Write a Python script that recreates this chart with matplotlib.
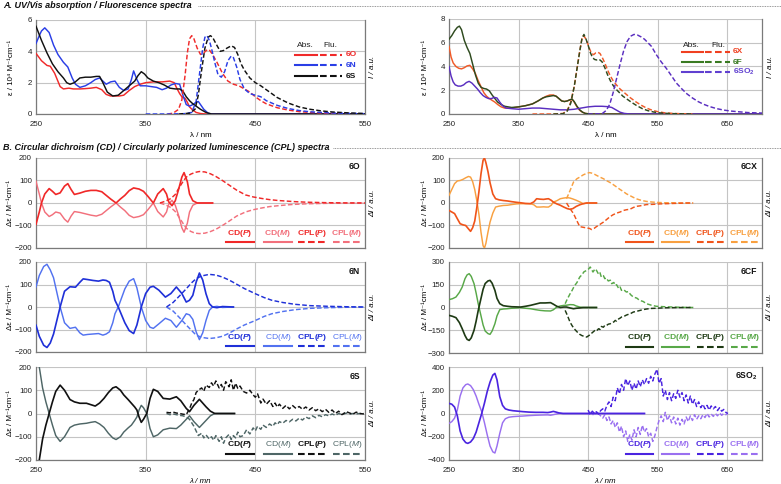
import matplotlib
matplotlib.use("Agg")
import matplotlib.pyplot as plt
from matplotlib.lines import Line2D

plt.rcParams['font.family'] = ['Liberation Sans', 'DejaVu Sans']
plt.rcParams['mathtext.fontset'] = 'custom'
plt.rcParams['mathtext.rm'] = 'Liberation Sans'
plt.rcParams['mathtext.it'] = 'Liberation Sans:italic'
plt.rcParams['mathtext.bf'] = 'Liberation Sans:bold'
plt.rcParams['mathtext.bfit'] = 'Liberation Sans:italic:bold'

# ---------------- DATA ----------------
# A. absorption (10^4 M-1 cm-1) / fluorescence (a.u.), left panel
ABS_6O_X = [250,255,260,263,267,272,275,280,284,290,295,300,305,310,314,318,322,326,330,335,340,345,350,357,365,372,376,378,381,383,386,388,390,393,396,400,405,550]
ABS_6O_Y = [3.87,3.4,3.1,3.05,2.6,1.75,1.6,1.65,1.6,1.6,1.62,1.65,1.7,1.55,1.25,1.15,1.15,1.15,1.2,1.5,1.75,1.9,2.0,2.05,2.05,2.1,2.0,1.7,1.3,1.1,1.0,0.75,0.45,0.25,0.1,0.03,0,0]
ABS_6N_X = [250,253,255,258,262,266,270,275,279,283,286,290,295,300,304,308,311,314,318,322,326,330,334,337,339,342,345,350,355,360,365,369,373,377,381,384,387,390,393,396,398,401,403,407,410,550]
ABS_6N_Y = [4.5,5.0,5.3,5.5,5.2,4.4,3.8,3.3,3.0,2.3,1.9,1.7,1.8,2.0,2.2,2.3,2.1,1.9,2.05,2.1,1.7,1.5,1.6,2.2,2.75,2.2,1.8,1.8,1.75,1.7,1.55,1.65,1.85,1.95,1.9,1.2,0.6,0.5,0.6,0.75,0.8,0.5,0.3,0.05,0,0]
ABS_6S_X = [250,255,260,265,270,275,278,281,285,290,295,300,305,308,311,315,320,325,330,335,340,343,346,349,352,357,362,367,372,377,381,384,387,390,393,396,400,405,410,550]
ABS_6S_Y = [5.6,4.7,3.9,3.2,2.7,2.3,2.0,1.9,2.0,2.3,2.35,2.35,2.4,2.4,2.0,1.4,1.15,1.2,1.5,1.8,2.1,2.45,2.7,2.55,2.3,2.1,2.0,1.85,1.65,1.6,1.6,1.45,1.1,0.85,0.65,0.5,0.3,0.1,0,0]
FLU_6O_X = [370,375,380,383,386,388,390,392,394,397,400,403,406,408,411,415,420,425,430,435,440,445,450,455,460,470,480,490,500,515,530,550]
FLU_6O_Y = [0,0.05,0.3,0.9,2.5,3.9,4.8,5.0,4.8,4.2,3.8,3.9,4.1,4.1,3.8,3.3,2.6,2.1,1.9,1.8,1.6,1.4,1.1,0.85,0.65,0.4,0.25,0.15,0.1,0.05,0.02,0]
FLU_6N_X = [350,370,385,392,396,399,402,404,406,408,410,413,416,419,422,425,428,430,433,436,440,445,450,455,460,470,480,490,500,520,550]
FLU_6N_Y = [0,0,0.02,0.1,0.8,2.5,4.2,4.9,5.0,4.7,4.2,3.3,2.5,2.35,2.7,3.4,3.7,3.6,3.0,2.2,1.6,1.3,1.2,1.1,0.85,0.55,0.35,0.22,0.14,0.06,0.02]
FLU_6S_X = [380,390,395,398,401,404,407,409,411,414,418,421,424,428,431,434,437,440,445,450,455,460,470,480,490,500,510,520,535,550]
FLU_6S_Y = [0,0.05,0.3,1.2,2.8,4.2,4.9,5.0,4.9,4.5,4.0,4.05,4.2,4.35,4.25,3.8,3.2,2.8,2.3,2.0,1.8,1.55,1.05,0.7,0.45,0.3,0.2,0.13,0.07,0.03]

# right panel
ABS_6X_X = [250,253,256,260,264,268,272,276,280,284,288,292,296,300,304,308,312,316,320,325,330,340,350,360,370,378,385,390,395,400,404,408,412,416,420,424,427,430,434,438,442,446,450,460,700]
ABS_6X_Y = [5.7,4.8,4.3,4.0,3.85,3.8,3.9,4.05,4.1,3.8,3.4,2.8,2.3,1.8,1.5,1.3,1.15,1.0,0.8,0.6,0.5,0.5,0.6,0.7,0.85,1.1,1.35,1.5,1.6,1.6,1.5,1.3,1.1,1.05,1.1,1.2,1.25,1.0,0.6,0.3,0.15,0.05,0.02,0,0]
ABS_6F_X = [250,254,258,262,265,268,272,276,280,284,288,292,296,300,304,308,312,316,320,325,330,340,350,360,370,378,385,390,395,400,404,408,412,416,420,424,427,430,434,438,442,446,450,455,700]
ABS_6F_Y = [6.3,6.6,7.0,7.3,7.4,7.1,6.2,5.6,5.1,4.2,3.3,2.6,2.25,2.15,2.1,1.95,1.6,1.3,1.0,0.8,0.65,0.55,0.6,0.7,0.85,1.1,1.35,1.45,1.5,1.55,1.5,1.3,1.1,1.05,1.1,1.2,1.25,1.05,0.65,0.35,0.15,0.05,0.02,0,0]
ABS_6SO2_X = [250,253,256,259,263,267,271,275,279,283,287,291,295,299,303,307,311,315,319,323,327,332,340,350,360,370,380,390,400,410,420,430,440,450,460,470,478,484,490,496,502,510,700]
ABS_6SO2_Y = [4.0,3.2,2.7,2.45,2.35,2.35,2.45,2.65,2.75,2.6,2.35,2.1,1.8,1.55,1.4,1.3,1.3,1.4,1.35,1.0,0.7,0.5,0.45,0.4,0.45,0.5,0.5,0.45,0.4,0.35,0.35,0.4,0.5,0.6,0.65,0.65,0.62,0.55,0.35,0.15,0.05,0,0]
FLU_6X_X = [370,400,414,420,425,430,434,438,441,443,446,449,452,455,458,461,464,467,470,474,478,482,486,490,496,502,510,518,526,534,542,550,560,572,585,600]
FLU_6X_Y = [0,0,0.05,0.3,1.0,2.3,3.8,5.3,6.3,6.6,6.4,6.0,5.5,5.1,5.0,5.15,5.2,5.1,4.8,4.3,3.7,3.2,2.8,2.5,2.1,1.8,1.4,1.05,0.75,0.5,0.32,0.2,0.1,0.05,0.02,0]
FLU_6F_X = [400,414,420,425,430,434,438,441,444,447,450,453,456,459,462,466,470,474,478,482,486,490,495,500,506,512,520,528,536,544,552,560,572,585,600]
FLU_6F_Y = [0,0.02,0.25,0.9,2.3,3.8,5.3,6.3,6.7,6.3,5.8,5.2,4.8,4.6,4.55,4.6,4.4,3.9,3.3,2.8,2.4,2.1,1.8,1.5,1.25,1.0,0.7,0.45,0.28,0.17,0.1,0.06,0.03,0.01,0]
FLU_6SO2_X = [450,470,476,481,486,491,496,501,506,511,516,521,526,531,536,541,548,555,563,570,577,585,592,600,608,616,625,635,645,655,668,680,700]
FLU_6SO2_Y = [0,0.02,0.3,0.8,1.8,3.0,4.2,5.3,6.1,6.55,6.7,6.65,6.5,6.3,6.0,5.7,5.0,4.4,3.8,3.2,2.6,2.1,1.7,1.35,1.05,0.82,0.62,0.45,0.33,0.25,0.18,0.12,0.08]

# B. CD (M-1 cm-1) / CPL (a.u.)
CD6O_X = [250,253,255,258,262,265,268,272,276,279,282,285,290,295,300,305,310,314,318,323,327,331,335,339,344,348,352,357,361,366,369,371,374,377,380,383,385,388,390,393,397,402,411]
CD6O_P = [-95,-40,0,40,64,52,38,45,75,86,60,38,44,52,56,56,50,34,18,0,18,34,55,67,62,52,30,0,40,64,40,5,-12,10,60,115,135,95,40,10,0,0,0]
CD6O_M = [97,40,0,-40,-60,-52,-40,-45,-72,-85,-58,-38,-42,-48,-54,-58,-50,-34,-18,0,-18,-34,-55,-65,-60,-52,-30,0,-38,-62,-40,-5,12,-10,-55,-110,-130,-90,-40,-10,0,0,0]
CPL6O_X = [363,368,373,377,380,384,387,391,395,399,404,409,414,420,426,433,441,448,456,463,471,480,486,495,501,515,530,550]
CPL6O_P = [0,8,20,38,64,95,115,128,136,140,138,130,118,100,80,57,36,27,20,15,11,8,6,4,3,1.5,0.5,0]
CPL6O_M = [0,-8,-20,-38,-60,-90,-112,-126,-134,-136,-134,-127,-117,-100,-81,-58,-40,-30,-22,-16,-12,-8,-6,-4,-3,-1.5,-0.5,0]

CD6N_X = [250,253,257,260,263,266,269,272,276,281,286,290,293,297,302,307,311,314,317,320,322,325,328,331,335,339,342,346,350,354,357,362,368,373,378,383,387,390,393,396,399,402,405,408,411,415,420,430]
CD6N_P = [-81,-130,-170,-180,-160,-120,-60,0,70,90,88,110,125,122,118,115,120,118,110,70,30,0,-35,-70,-105,-118,-80,0,60,88,92,75,44,60,89,60,22,30,52,110,151,120,59,15,0,-3,2,0]
CD6N_M = [89,140,180,190,165,130,65,0,-70,-95,-90,-115,-125,-122,-120,-118,-125,-120,-110,-70,-30,0,40,80,115,126,85,0,-60,-90,-95,-75,-50,-60,-90,-60,-30,-35,-55,-110,-145,-115,-60,-15,0,3,-2,0]
CPL6N_X = [369,375,381,387,392,396,401,408,414,420,426,432,440,450,458,465,475,486,500,517,535,550]
CPL6N_P = [0,20,50,81,108,126,138,145,142,133,120,104,82,59,42,30,20,12,6,3,1,0]
CPL6N_M = [0,-18,-48,-80,-105,-125,-135,-140,-137,-130,-117,-100,-80,-60,-42,-30,-20,-12,-6,-3,-1,0]

CD6S_X = [250,253,256,259,262,265,268,272,276,281,285,290,296,300,304,308,312,316,320,323,327,330,334,337,340,342,344,346,348,351,354,357,361,366,372,378,382,387,390,394,399,402,405,409,413,420,431]
CD6S_P = [-300,-200,-110,-50,0,50,95,122,100,60,50,44,44,38,32,45,65,90,110,115,100,80,60,44,28,15,-15,-38,-25,0,65,104,95,65,62,72,55,22,8,35,61,45,29,10,0,0,0]
CD6S_M = [300,200,110,50,0,-50,-95,-120,-100,-60,-50,-45,-42,-38,-35,-45,-60,-85,-105,-112,-100,-80,-62,-50,-30,-15,15,35,25,0,-65,-100,-92,-70,-63,-65,-50,-25,-10,-35,-60,-45,-30,-10,0,0,0]
CPL6S_X = [369,372,375,378,381,384,387,390,392,394,396,398,401,403,405,408,410,412,414,417,
           419,421,423,426,428,430,432,434,436,439,442,445,448,450,452,455,457,460,463,466,
           468,470,472,475,478,481,484,487,490,493,496,499,502,505,508,511,514,517,520,523,
           526,529,533,536,539,542,545,549]
CPL6S_P = [5,3,6,2,0,-3,-5,20,45,60,90,100,110,96,122,112,132,118,140,110,
           125,100,137,115,145,100,130,108,118,95,88,100,80,70,85,45,62,40,55,30,
           45,28,40,22,35,20,34,22,30,18,28,15,25,12,20,8,18,5,15,0,
           10,-5,8,2,-3,6,0,-2]
CPL6S_M = [0,-5,-2,-5,-8,-10,-15,-25,-40,-55,-75,-95,-85,-105,-92,-110,-100,-115,-95,-120,
           -100,-128,-105,-90,-112,-95,-105,-80,-100,-95,-70,-88,-62,-75,-55,-68,-50,-60,-45,-55,
           -40,-48,-35,-42,-30,-36,-25,-32,-20,-28,-15,-22,-10,-18,-8,-14,-5,-10,-2,-8,
           0,-5,2,-3,0,-2,0,0]

CD6CX_X = [250,254,258,262,266,270,274,278,281,284,287,290,293,296,299,301,303,306,309,313,317,322,328,334,340,347,353,360,367,372,376,381,386,390,393,397,400,405,410,415,420,424,428,433,438,443,448,455,462]
CD6CX_P = [-33,-40,-47,-70,-92,-97,-100,-115,-126,-110,-80,-20,50,130,190,200,180,140,90,40,19,14,11,9,6,3,1,-2,-3,5,19,17,16,18,19,12,4,-4,-10,-18,-25,-28,-25,-15,-8,-3,0,0,0]
CD6CX_M = [34,60,86,98,100,105,112,118,115,95,60,10,-50,-130,-190,-200,-180,-130,-85,-45,-18,-14,-11,-10,-7,-4,-3,-3,-3,-8,-18,-18,-17,-18,-18,-10,4,10,19,22,24,22,18,12,5,-3,0,0,0]
CPL6CX_X = [419,424,429,434,438,443,448,452,455,459,462,467,472,476,481,486,491,496,501,505,510,515,519,524,529,534,543,553,563,572,582,592,601]
CPL6CX_P = [0,-25,-47,-80,-105,-108,-111,-113,-118,-112,-105,-95,-85,-75,-62,-52,-45,-40,-33,-30,-28,-20,-15,-13,-10,-7,-6,-4,-3,-2,-1,0,0]
CPL6CX_M = [19,55,93,108,115,125,132,135,133,128,123,115,108,100,92,82,71,60,50,41,33,25,19,14,10,7,4,2,1,1,0,0,0]

CD6CF_X = [250,255,260,265,269,273,276,279,282,286,289,292,296,299,302,306,309,312,316,319,323,328,334,340,347,353,360,367,374,381,388,396,400,405,410,415,419,424,429,433,438,443,448,455,462]
CD6CF_P = [-52,-58,-67,-100,-140,-185,-210,-217,-200,-150,-90,-20,60,120,158,175,179,160,113,60,25,12,8,5,4,3,8,14,22,30,30,32,22,8,0,3,3,-3,-8,-5,-3,0,0,0,0]
CD6CF_M = [52,58,69,100,135,190,215,223,205,157,95,25,-55,-115,-155,-172,-177,-155,-107,-55,-14,-10,-8,-5,-3,-1,-5,-8,-14,-19,-22,-23,-15,3,10,14,15,19,18,10,3,0,0,0,0]
CPL6CF_X = [417,420,424,427,430,434,438,441,444,448,451,453,455,457,460,462,465,467,469,472,
            474,476,479,482,484,487,489,491,494,496,498,501,505,508,511,515,520,524,529,534,
            541,548,560,572,586,601]
CPL6CF_M = [25,55,90,113,140,165,201,215,235,245,255,267,250,234,255,245,220,230,201,210,
            190,195,175,180,157,165,146,150,125,135,113,118,102,105,85,69,62,47,40,25,
            15,8,5,3,1,0]
CPL6CF_P = [-19,-50,-96,-120,-140,-160,-177,-185,-190,-195,-185,-180,-170,-162,-150,-155,-140,-145,-125,-130,
            -118,-120,-110,-107,-100,-95,-85,-90,-75,-70,-63,-60,-50,-45,-40,-30,-25,-20,-14,-10,
            -6,-5,-2,-1,0,0]

CD6SO2_X = [250,254,258,262,266,270,274,277,281,285,289,293,297,301,305,309,313,316,319,323,327,331,336,342,349,356,365,375,385,392,396,400,404,408,414,430,460,500,531]
CD6SO2_P = [87,80,55,-20,-150,-220,-250,-257,-245,-215,-160,-80,0,90,190,270,330,345,290,145,70,40,30,24,20,16,12,10,10,8,12,18,12,5,0,0,0,0,0]
CD6SO2_M = [-85,-70,-40,30,150,220,248,254,240,205,150,80,16,-80,-185,-280,-330,-340,-280,-171,-80,-45,-32,-27,-24,-22,-18,-15,-13,-12,-15,-10,-5,0,0,0,0,0,0]
CPL6SO2_X = [450,453,456,459,462,465,468,471,474,477,480,483,486,489,492,495,498,501,504,507,
             510,513,516,519,522,525,528,531,534,537,540,543,546,549,552,555,558,561,564,567,
             570,573,576,579,582,585,588,591,594,597,600,603,606,609,612,615,618,621,624,627,
             630,633,636,639,642,645,648,651]
CPL6SO2_P = [30,-10,20,0,15,-5,25,40,20,70,100,60,140,110,220,170,250,200,300,240,
             280,200,260,210,280,230,290,250,300,260,320,280,340,380,260,300,150,200,120,180,
             110,170,130,200,140,180,110,160,90,150,80,120,60,100,50,80,40,70,30,65,
             40,60,25,50,20,35,10,0]
CPL6SO2_M = [-10,10,-15,5,-10,0,-20,-40,-10,-60,-30,-90,-60,-120,-80,-160,-110,-200,-150,-240,
             -180,-230,-140,-200,-120,-180,-100,-160,-130,-200,-170,-240,-190,-120,-60,-20,-70,10,-60,-20,
             -80,-30,-90,-40,-100,-50,-90,-30,-70,-20,-60,-10,-50,-20,-45,-10,-35,0,-30,-5,
             -25,0,-20,5,-15,0,-10,0]

# ---------------- FIGURE ----------------
W, H = 781, 484
fig = plt.figure(figsize=(W / 100, H / 100), dpi=100)

def px_axes(x0, y0, x1, y1):
    return fig.add_axes([x0 / W, 1 - y1 / H, (x1 - x0) / W, (y1 - y0) / H])

TFS = 5.7
GRID = '#c4c4c4'
SPINE = '#7a7a7a'

def style(ax, xlim, xticks, ylim, yticks, showx=True):
    ax.set_xlim(*xlim)
    ax.set_ylim(*ylim)
    ax.set_xticks(xticks)
    ax.set_yticks(yticks)
    ax.grid(True, color=GRID, lw=0.8, zorder=0)
    ax.set_axisbelow(True)
    ax.spines['top'].set_visible(False)
    for s in ['left', 'bottom', 'right']:
        ax.spines[s].set_color(SPINE)
        ax.spines[s].set_linewidth(0.9)
    ax.tick_params(axis='y', length=0, labelsize=TFS, pad=3, colors='#222222')
    ax.tick_params(axis='x', length=0, labelsize=TFS, pad=5, colors='#222222')
    if not showx:
        ax.set_xticklabels([])

DASH = (0, (3.2, 1.6))
LW = 1.05

def ftxt(xp, yp, s, **kw):
    fig.text(xp / W, 1 - yp / H, s, **kw)

# headings + dotted separators
ftxt(3, 6, 'A. UV/Vis absorption / Fluorescence spectra', fontsize=6.5, fontweight='bold',
     style='italic', va='center', ha='left', color='#111111')
ftxt(3, 148, 'B. Circular dichroism (CD) / Circularly polarized luminescence (CPL) spectra',
     fontsize=6.45, fontweight='bold', style='italic', va='center', ha='left', color='#111111')
for (xa, ya) in [(198, 6), (333, 147.5)]:
    fig.add_artist(Line2D([xa / W, 1.0], [1 - ya / H, 1 - ya / H], transform=fig.transFigure,
                          color='#777777', lw=0.6, ls=(0, (1, 1))))

# ---------- Panel A left ----------
axA1 = px_axes(36, 20, 365, 114)
style(axA1, (250, 550), [250, 350, 450, 550], (0, 6), [0, 2, 4, 6])
cO, cN, cS = '#f02a2a', '#2a3ee6', '#111111'
for xs, ys, c in [(ABS_6O_X, ABS_6O_Y, cO), (ABS_6N_X, ABS_6N_Y, cN), (ABS_6S_X, ABS_6S_Y, cS)]:
    axA1.plot(xs, ys, color=c, lw=LW, zorder=3)
for xs, ys, c in [(FLU_6O_X, FLU_6O_Y, cO), (FLU_6N_X, FLU_6N_Y, cN), (FLU_6S_X, FLU_6S_Y, cS)]:
    axA1.plot(xs, ys, color=c, lw=LW, ls=DASH, zorder=3)

def abs_legend(ax, names, colors, x_s0, x_s1, x_d0, x_d1, x_t, ys, y_head, x_abs, x_flu):
    T = ax.transAxes
    ax.text(x_abs, y_head, 'Abs.', transform=T, fontsize=6.0, ha='center', va='center', color='#222222')
    ax.text(x_flu, y_head, 'Flu.', transform=T, fontsize=6.0, ha='center', va='center', color='#222222')
    for n, c, y in zip(names, colors, ys):
        ax.plot([x_s0, x_s1], [y, y], transform=T, color=c, lw=1.5, zorder=5, clip_on=False)
        ax.plot([x_d0, x_d1], [y, y], transform=T, color=c, lw=1.5, ls=DASH, zorder=5, clip_on=False)
        ax.text(x_t, y, n, transform=T, fontsize=6.0, fontweight='bold', color=c, ha='left', va='center')

abs_legend(axA1, ['6O', '6N', '6S'], [cO, cN, cS], 0.787, 0.854, 0.862, 0.93, 0.942,
           [0.628, 0.521, 0.404], 0.734, 0.818, 0.894)
axA1.set_xlabel('λ / nm', fontsize=TFS, labelpad=3)
ftxt(12, 67, 'ε / 10⁴ M⁻¹cm⁻¹', fontsize=TFS, rotation=90, ha='center', va='center')
ftxt(373, 67, 'I / a.u.', fontsize=TFS, rotation=90, ha='center', va='center', style='italic')

# ---------- Panel A right ----------
axA2 = px_axes(449, 19, 762, 114)
style(axA2, (250, 700), [250, 350, 450, 550, 650], (0, 8), [0, 2, 4, 6, 8])
cX, cF, cSO = '#f05a28', '#2e4a1e', '#5a2ec0'
for xs, ys, c in [(ABS_6X_X, ABS_6X_Y, cX), (ABS_6F_X, ABS_6F_Y, cF), (ABS_6SO2_X, ABS_6SO2_Y, cSO)]:
    axA2.plot(xs, ys, color=c, lw=LW, zorder=3)
for xs, ys, c in [(FLU_6X_X, FLU_6X_Y, cX), (FLU_6F_X, FLU_6F_Y, cF), (FLU_6SO2_X, FLU_6SO2_Y, cSO)]:
    axA2.plot(xs, ys, color=c, lw=LW, ls=DASH, zorder=3)
abs_legend(axA2, ['6X', '6F', r'6SO$_\mathbf{2}$'], ['#f04020', '#3a7a22', '#6040d0'],
           0.744, 0.812, 0.818, 0.898, 0.907, [0.653, 0.547, 0.442], 0.726, 0.776, 0.86)
axA2.set_xlabel('λ / nm', fontsize=TFS, labelpad=3)
ftxt(425, 67, 'ε / 10⁴ M⁻¹cm⁻¹', fontsize=TFS, rotation=90, ha='center', va='center')
ftxt(770, 67, 'I / a.u.', fontsize=TFS, rotation=90, ha='center', va='center', style='italic')

# ---------- Panel B ----------
def cd_legend(ax, cP, cM, boldM=True, xs=(0.62, 0.735, 0.84, 0.945)):
    T = ax.transAxes
    labs = [r'CD($\mathbfit{P}$)', r'CD($\mathbfit{M}$)' if boldM else r'CD($\mathit{M}$)',
            r'CPL($\mathbfit{P}$)', r'CPL($\mathbfit{M}$)' if boldM else r'CPL($\mathit{M}$)']
    cols = [cP, cM, cP, cM]
    lss = ['-', '-', DASH, DASH]
    wts = ['bold', 'bold' if boldM else 'normal', 'bold', 'bold' if boldM else 'normal']
    for x, l, c, ls, w in zip(xs, labs, cols, lss, wts):
        ax.text(x, 0.165, l, transform=T, fontsize=6.1, fontweight=w, color=c, ha='center', va='center')
        ax.plot([x - 0.043, x + 0.043], [0.068, 0.068], transform=T, color=c, lw=1.5, ls=ls,
                zorder=5, clip_on=False)

def cd_panel(box, xlim, xticks, ylim, yticks, showx, X, P, M, CX, CP, CM, cP, cM, cplP, cplM,
             name, boldM=True, lx=None):
    ax = px_axes(*box)
    style(ax, xlim, xticks, ylim, yticks, showx)
    ax.plot(X, M, color=cM, lw=LW, zorder=3)
    ax.plot(X, P, color=cP, lw=LW * 1.15, zorder=4)
    ax.plot(CX, CM, color=cplM, lw=LW, ls=DASH, zorder=3)
    ax.plot(CX, CP, color=cplP, lw=LW, ls=DASH, zorder=4)
    ax.text(0.985, 0.9, name, transform=ax.transAxes, fontsize=6.2, fontweight='bold',
            ha='right', va='center', color='#111111')
    if lx is None:
        cd_legend(ax, cP, cM, boldM)
    else:
        cd_legend(ax, cP, cM, boldM, lx)
    return ax

L = (250, 550); LT = [250, 350, 450, 550]
R = (250, 700); RT = [250, 350, 450, 550, 650]
Y2 = [-200, -100, 0, 100, 200]

cd_panel((36, 158, 365, 248), L, LT, (-200, 200), Y2, False, CD6O_X, CD6O_P, CD6O_M,
         CPL6O_X, CPL6O_P, CPL6O_M, '#f02828', '#f2707c', '#f02828', '#f2707c', '6O')
cd_panel((36, 262, 365, 352), L, LT, (-200, 200), Y2, False, CD6N_X, CD6N_P, CD6N_M,
         CPL6N_X, CPL6N_P, CPL6N_M, '#1f30d8', '#5272f0', '#1f30d8', '#5272f0', '6N', boldM=False)
axS = cd_panel((36, 367, 365, 460), L, LT, (-200, 200), Y2, True, CD6S_X, CD6S_P, CD6S_M,
               CPL6S_X, CPL6S_P, CPL6S_M, '#111111', '#4e6666', '#111111', '#4e6666', '6S', boldM=False)
axS.set_xlabel('λ / mn', fontsize=TFS, labelpad=3, style='italic')

rlx = (0.61, 0.725, 0.835, 0.945)
cd_panel((449, 158, 762, 248), R, RT, (-200, 200), Y2, False, CD6CX_X, CD6CX_P, CD6CX_M,
         CPL6CX_X, CPL6CX_P, CPL6CX_M, '#f0541a', '#f8a040', '#f0541a', '#f8a040', '6CX', lx=rlx)
cd_panel((449, 262, 762, 353), R, RT, (-300, 300), [-300, -150, 0, 150, 300], False,
         CD6CF_X, CD6CF_P, CD6CF_M, CPL6CF_X, CPL6CF_P, CPL6CF_M,
         '#1e3a14', '#58a848', '#1e3a14', '#58a848', '6CF', lx=rlx)
axSO = cd_panel((449, 367, 762, 460), R, RT, (-400, 400), [-400, -200, 0, 200, 400], True,
                CD6SO2_X, CD6SO2_P, CD6SO2_M, CPL6SO2_X, CPL6SO2_P, CPL6SO2_M,
                '#4a24e0', '#9a70f0', '#4a24e0', '#9a70f0', r'6SO$_\mathbf{2}$', lx=rlx)
axSO.set_xlabel('λ / nm', fontsize=TFS, labelpad=3, style='italic')

for yc in [203, 307, 413]:
    ftxt(11, yc, 'Δε / M⁻¹cm⁻¹', fontsize=TFS, rotation=90, ha='center', va='center')
    ftxt(373, yc, 'ΔI / a.u.', fontsize=TFS, rotation=90, ha='center', va='center', style='italic')
    ftxt(425, yc, 'Δε / M⁻¹cm⁻¹', fontsize=TFS, rotation=90, ha='center', va='center')
    ftxt(770, yc, 'ΔI / a.u.', fontsize=TFS, rotation=90, ha='center', va='center', style='italic')

fig.savefig('out.png', dpi=100)
